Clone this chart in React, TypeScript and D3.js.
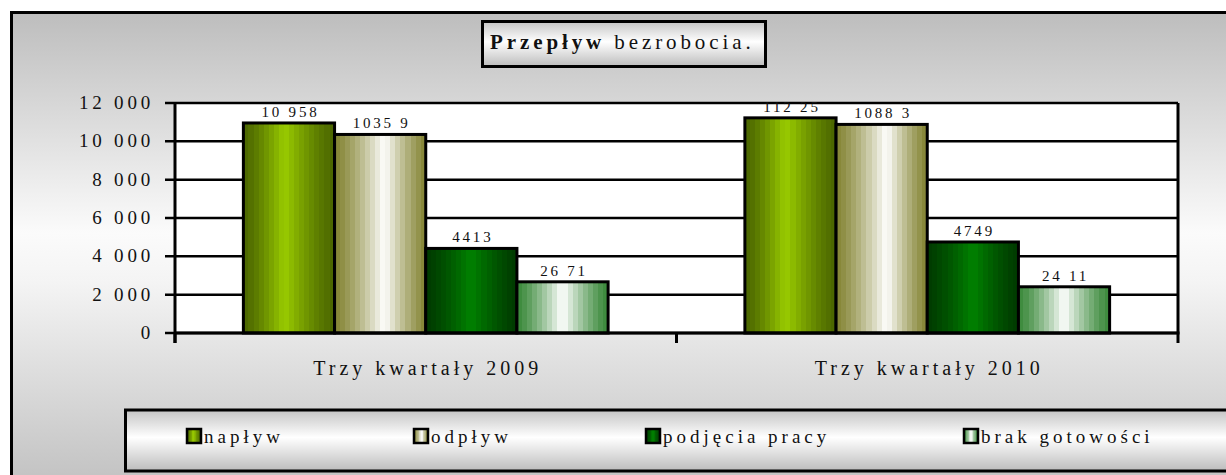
import React from 'react';
import * as d3 from 'd3';

const categories = ['Trzy kwartały 2009', 'Trzy kwartały 2010'];
const seriesNames = ['napływ', 'odpływ', 'podjęcia pracy', 'brak gotowości'];
const naplyw = [10958, 11225];
const odplyw = [10359, 10883];
const podjecia = [4413, 4749];
const brak = [2671, 2411];
const naplywLabels = ['10 958', '112 25'];
const odplywLabels = ['1035 9', '1088 3'];
const podjeciaLabels = ['4413', '4749'];
const brakLabels = ['26 71', '24 11'];
const yTicks = [0, 2000, 4000, 6000, 8000, 10000, 12000];
const yTickLabels = ['0', '2 000', '4 000', '6 000', '8 000', '10 000', '12 000'];
const titleBold = 'Przepływ';
const titleRest = ' bezrobocia.';

const seriesValues = [naplyw, odplyw, podjecia, brak];
const seriesLabels = [naplywLabels, odplywLabels, podjeciaLabels, brakLabels];
const seriesEdge = ['#4b6600', '#858535', '#003a00', '#3a893a'];
const seriesCenter = ['#9acc00', '#ffffff', '#008200', '#ffffff'];
const seriesPeak = [0.45, 0.55, 0.5, 0.5];

const FONT = '"Liberation Serif", "Times New Roman", serif';

function bandStops(edge: string, center: string, peak: number, n = 18) {
  const interp = d3.interpolateRgb(edge, center);
  const stops: { off: number; color: string }[] = [];
  for (let i = 0; i < n; i++) {
    const mid = (i + 0.5) / n;
    const d = mid < peak ? (peak - mid) / peak : (mid - peak) / (1 - peak);
    const t = Math.pow(1 - Math.min(1, d), 1.3);
    const c = interp(t);
    stops.push({ off: i / n, color: c });
    stops.push({ off: (i + 1) / n, color: c });
  }
  return stops;
}

export default function App() {
  const W = 1226;
  const H = 475;
  const plotL = 175;
  const plotR = 1178;
  const plotT = 103;
  const plotB = 333;

  const x0 = d3.scaleBand<string>().domain(categories).range([plotL, plotR]).padding(0);
  const bw = x0.bandwidth();
  const groupW = (bw * 4) / 5.5;
  const x1 = d3
    .scaleBand<string>()
    .domain(seriesNames)
    .range([(bw - groupW) / 2, (bw + groupW) / 2])
    .padding(0);
  const y = d3.scaleLinear().domain([0, 12000]).range([plotB, plotT]);

  const legendX = [187, 414, 646, 964];

  return (
    <svg
      width={W}
      height={H}
      style={{ position: 'absolute', left: 0, top: 0, display: 'block' }}
      fontFamily={FONT}
    >
      <defs>
        <linearGradient id="bgGrad" x1="0" y1="0" x2="0" y2="1">
          <stop offset="0" stopColor="#bdbdbd" />
          <stop offset="0.45" stopColor="#fbfbfb" />
          <stop offset="0.55" stopColor="#f4f4f4" />
          <stop offset="1" stopColor="#bdbdbd" />
        </linearGradient>
        <linearGradient id="boxGrad" x1="0" y1="0" x2="0" y2="1">
          <stop offset="0" stopColor="#c4c4c4" />
          <stop offset="0.45" stopColor="#ffffff" />
          <stop offset="1" stopColor="#bcbcbc" />
        </linearGradient>
        {seriesNames.map((s, i) => (
          <linearGradient key={s} id={`bar${i}`} x1="0" y1="0" x2="1" y2="0">
            {bandStops(seriesEdge[i], seriesCenter[i], seriesPeak[i]).map((st, j) => (
              <stop key={j} offset={st.off} stopColor={st.color} />
            ))}
          </linearGradient>
        ))}
      </defs>

      {/* outer frame */}
      <rect x={11.5} y={12.5} width={1240} height={490} fill="url(#bgGrad)" stroke="#000" strokeWidth={3} />

      {/* title */}
      <rect x={482.5} y={21.5} width={283} height={45} fill="url(#boxGrad)" stroke="#000" strokeWidth={3} />
      <text x={490} y={49} fontSize={21} letterSpacing={3.9} fill="#111">
        <tspan fontWeight="bold">{titleBold}</tspan>
        <tspan>{titleRest}</tspan>
      </text>

      {/* plot area */}
      <rect x={plotL} y={plotT} width={plotR - plotL} height={plotB - plotT} fill="#fff" />
      {yTicks.map((t) => (
        <line key={t} x1={165} x2={plotR} y1={y(t)} y2={y(t)} stroke="#000" strokeWidth={2.5} />
      ))}
      <line x1={plotR} x2={plotR} y1={plotT} y2={plotB} stroke="#000" strokeWidth={3} />

      {/* bars */}
      {categories.map((c, ci) =>
        seriesNames.map((s, si) => {
          const v = seriesValues[si][ci];
          const bx = (x0(c) as number) + (x1(s) as number);
          const by = y(v);
          return (
            <rect
              key={`${c}-${s}`}
              x={bx}
              y={by}
              width={x1.bandwidth()}
              height={plotB - by}
              fill={`url(#bar${si})`}
              stroke="#000"
              strokeWidth={3}
            />
          );
        })
      )}

      {/* axes */}
      <line x1={plotL} x2={plotL} y1={plotT - 1} y2={343} stroke="#000" strokeWidth={3} />
      <line x1={plotL} x2={plotR + 1.5} y1={plotB} y2={plotB} stroke="#000" strokeWidth={3} />
      {[plotL, plotL + bw, plotR].map((tx, i) => (
        <line key={i} x1={tx} x2={tx} y1={plotB} y2={343} stroke="#000" strokeWidth={3} />
      ))}

      {/* y tick labels */}
      {yTicks.map((t, i) => (
        <text key={t} x={154} y={y(t) + 6} textAnchor="end" fontSize={19} letterSpacing={3.8} fill="#111">
          {yTickLabels[i]}
        </text>
      ))}

      {/* data labels */}
      {categories.map((c, ci) =>
        seriesNames.map((s, si) => {
          const v = seriesValues[si][ci];
          const cx = (x0(c) as number) + (x1(s) as number) + x1.bandwidth() / 2;
          return (
            <text
              key={`l-${c}-${s}`}
              x={cx + 1.5}
              y={y(v) - 6}
              textAnchor="middle"
              fontSize={15}
              letterSpacing={2.8}
              fill="#111"
            >
              {seriesLabels[si][ci]}
            </text>
          );
        })
      )}

      {/* category labels */}
      {categories.map((c) => (
        <text
          key={c}
          x={(x0(c) as number) + bw / 2 + 2}
          y={375}
          textAnchor="middle"
          fontSize={20}
          letterSpacing={4}
          fill="#111"
        >
          {c}
        </text>
      ))}

      {/* legend */}
      <rect x={125.5} y={410} width={1120} height={61} fill="url(#boxGrad)" stroke="#000" strokeWidth={3} />
      {seriesNames.map((s, i) => (
        <g key={s} transform={`translate(${legendX[i]},429)`}>
          <rect x={0} y={0} width={14} height={14} fill={`url(#bar${i})`} stroke="#000" strokeWidth={2.5} />
          <text x={17} y={14} fontSize={19} letterSpacing={4} fill="#111">
            {s}
          </text>
        </g>
      ))}
    </svg>
  );
}
